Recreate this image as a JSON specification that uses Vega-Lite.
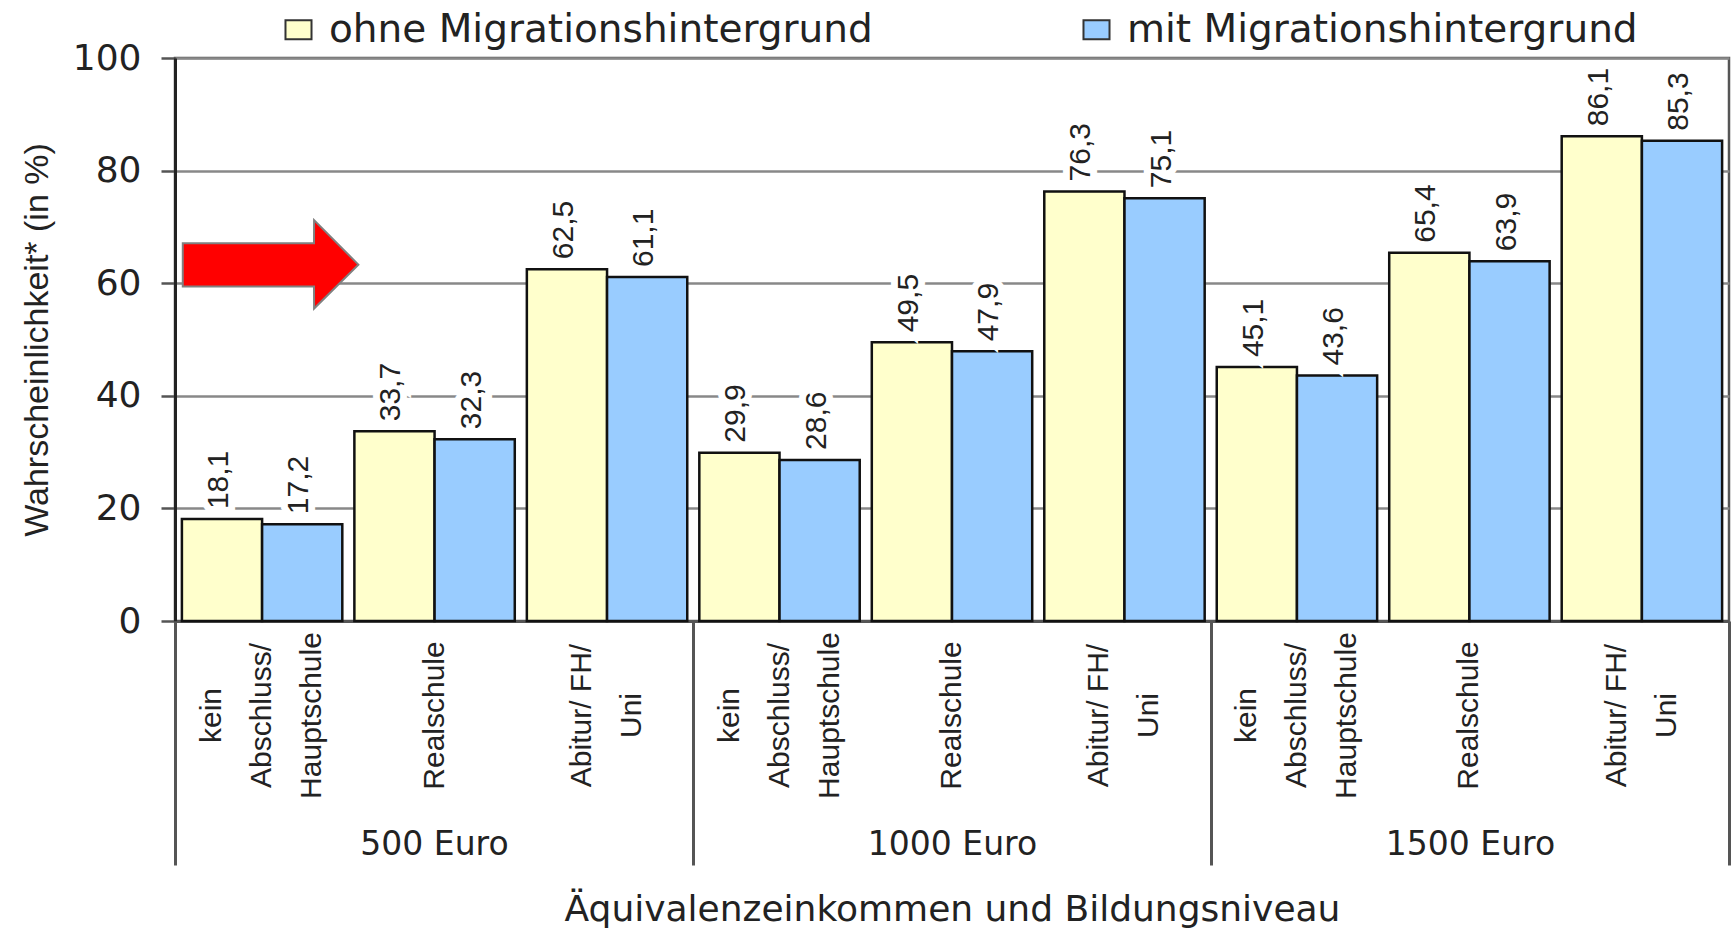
{
  "$schema": "https://vega.github.io/schema/vega-lite/v6.json",
  "width": 1554,
  "height": 563,
  "autosize": {"type": "none"},
  "padding": {"left": 175, "top": 58, "right": 6, "bottom": 310},
  "background": "white",
  "config": {
    "locale": {"number": {"decimal": ",", "thousands": ".", "grouping": [3], "currency": ["", " €"]}},
    "view": {"stroke": "#555", "strokeWidth": 2.5},
    "font": "DejaVu Sans"
  },
  "datasets": {
    "bars": [
      {"cat": "500|kein|Abschluss/|Hauptschule", "grp": "ohne Migrationshintergrund", "value": 18.1},
      {"cat": "500|kein|Abschluss/|Hauptschule", "grp": "mit Migrationshintergrund", "value": 17.2},
      {"cat": "500|Realschule", "grp": "ohne Migrationshintergrund", "value": 33.7},
      {"cat": "500|Realschule", "grp": "mit Migrationshintergrund", "value": 32.3},
      {"cat": "500|Abitur/ FH/|Uni", "grp": "ohne Migrationshintergrund", "value": 62.5},
      {"cat": "500|Abitur/ FH/|Uni", "grp": "mit Migrationshintergrund", "value": 61.1},
      {"cat": "1000|kein|Abschluss/|Hauptschule", "grp": "ohne Migrationshintergrund", "value": 29.9},
      {"cat": "1000|kein|Abschluss/|Hauptschule", "grp": "mit Migrationshintergrund", "value": 28.6},
      {"cat": "1000|Realschule", "grp": "ohne Migrationshintergrund", "value": 49.5},
      {"cat": "1000|Realschule", "grp": "mit Migrationshintergrund", "value": 47.9},
      {"cat": "1000|Abitur/ FH/|Uni", "grp": "ohne Migrationshintergrund", "value": 76.3},
      {"cat": "1000|Abitur/ FH/|Uni", "grp": "mit Migrationshintergrund", "value": 75.1},
      {"cat": "1500|kein|Abschluss/|Hauptschule", "grp": "ohne Migrationshintergrund", "value": 45.1},
      {"cat": "1500|kein|Abschluss/|Hauptschule", "grp": "mit Migrationshintergrund", "value": 43.6},
      {"cat": "1500|Realschule", "grp": "ohne Migrationshintergrund", "value": 65.4},
      {"cat": "1500|Realschule", "grp": "mit Migrationshintergrund", "value": 63.9},
      {"cat": "1500|Abitur/ FH/|Uni", "grp": "ohne Migrationshintergrund", "value": 86.1},
      {"cat": "1500|Abitur/ FH/|Uni", "grp": "mit Migrationshintergrund", "value": 85.3}
    ],
    "arrow": [
      {"px": 0.045, "lo": 59.4, "hi": 67.1},
      {"px": 0.805, "lo": 59.4, "hi": 67.1},
      {"px": 0.8055, "lo": 55.5, "hi": 71.2},
      {"px": 1.062, "lo": 63.3, "hi": 63.3}
    ],
    "groups": [
      {"inc": "500 Euro"},
      {"inc": "1000 Euro"},
      {"inc": "1500 Euro"}
    ]
  },
  "layer": [
    {
      "data": {"name": "bars"},
      "encoding": {
        "x": {
          "field": "cat", "type": "nominal", "sort": null,
          "scale": {"paddingInner": 0.07, "paddingOuter": 0.04},
          "axis": {
            "orient": "bottom", "title": null, "ticks": false, "grid": false,
            "domainColor": "#555", "domainWidth": 3,
            "labelExpr": "slice(split(datum.value, '|'), 1)",
            "labelAngle": 270, "labelAlign": "center", "labelBaseline": "middle",
            "labelOffset": {
              "condition": [
                {"test": "length(split(datum.value, '|')) == 4", "value": -50},
                {"test": "length(split(datum.value, '|')) == 3", "value": -25}
              ],
              "value": 0
            },
            "labelPadding": 94, "labelFont": "Liberation Sans", "labelFontSize": 30,
            "labelLineHeight": 50, "labelColor": "#222", "labelLimit": 0
          }
        },
        "xOffset": {
          "field": "grp", "type": "nominal",
          "sort": ["ohne Migrationshintergrund", "mit Migrationshintergrund"],
          "scale": {"paddingInner": 0, "paddingOuter": 0}
        },
        "y": {
          "field": "value", "type": "quantitative",
          "scale": {"domain": [0, 100], "nice": false},
          "axis": {
            "title": "Wahrscheinlichkeit* (in %)",
            "values": [0, 20, 40, 60, 80, 100],
            "tickSize": 14, "tickColor": "#555", "tickWidth": 2.5,
            "domainColor": "#222", "domainWidth": 3,
            "gridColor": "#888", "gridWidth": 2.5,
            "labelFont": "DejaVu Sans", "labelFontSize": 36, "labelPadding": 20, "labelColor": "#222",
            "titleFont": "Liberation Sans", "titleFontSize": 34, "titleFontWeight": "normal",
            "titleColor": "#222", "titlePadding": 18
          }
        }
      },
      "layer": [
        {
          "mark": {"type": "bar", "stroke": "#111", "strokeWidth": 2.5},
          "encoding": {
            "color": {
              "field": "grp", "type": "nominal",
              "scale": {"domain": ["ohne Migrationshintergrund", "mit Migrationshintergrund"], "range": ["#FFFFCC", "#99CCFF"]},
              "legend": {
                "orient": "none", "legendX": 104, "legendY": -48, "direction": "horizontal",
                "title": null, "padding": 0,
                "symbolType": "M -1.37 -1 H 1.37 V 1 H -1.37 Z", "symbolSize": 361,
                "symbolStrokeColor": "#333", "symbolStrokeWidth": 2,
                "labelFont": "DejaVu Sans", "labelFontSize": 39, "labelColor": "#222",
                "labelOffset": 11, "columnPadding": 204, "labelLimit": 0
              }
            }
          }
        },
        {
          "mark": {"type": "text", "angle": 270, "align": "left", "baseline": "middle", "dx": 10, "dy": -3,
                   "font": "Liberation Sans", "fontSize": 30, "fill": "white", "stroke": "white", "strokeWidth": 14},
          "encoding": {"text": {"field": "value", "type": "quantitative", "format": ".1f"}}
        },
        {
          "mark": {"type": "text", "angle": 270, "align": "left", "baseline": "middle", "dx": 10, "dy": -3,
                   "font": "Liberation Sans", "fontSize": 30, "fill": "#222"},
          "encoding": {"text": {"field": "value", "type": "quantitative", "format": ".1f"}}
        }
      ]
    },
    {
      "data": {"name": "arrow"},
      "mark": {"type": "area", "color": "#FF0000", "stroke": "#808080", "strokeWidth": 2, "interpolate": "linear"},
      "encoding": {
        "x": {"field": "px", "type": "quantitative", "scale": {"domain": [0, 9], "nice": false}, "axis": null},
        "y": {"field": "lo", "type": "quantitative"},
        "y2": {"field": "hi"}
      }
    },
    {
      "data": {"name": "groups"},
      "mark": {"type": "rect", "opacity": 0},
      "encoding": {
        "x": {
          "field": "inc", "type": "nominal", "sort": null,
          "scale": {"paddingInner": 0, "paddingOuter": 0},
          "axis": {
            "orient": "bottom", "tickBand": "extent", "tickSize": 244, "tickColor": "#555", "tickWidth": 3,
            "domain": false, "grid": false, "labelAngle": 0, "labelBaseline": "middle", "labelPadding": -21,
            "labelFont": "DejaVu Sans", "labelFontSize": 33, "labelColor": "#222",
            "title": "Äquivalenzeinkommen und Bildungsniveau",
            "titleFont": "DejaVu Sans", "titleFontSize": 36, "titleFontWeight": "normal",
            "titleColor": "#222", "titlePadding": 71
          }
        }
      }
    }
  ],
  "resolve": {"scale": {"x": "independent"}, "axis": {"x": "independent"}}
}
